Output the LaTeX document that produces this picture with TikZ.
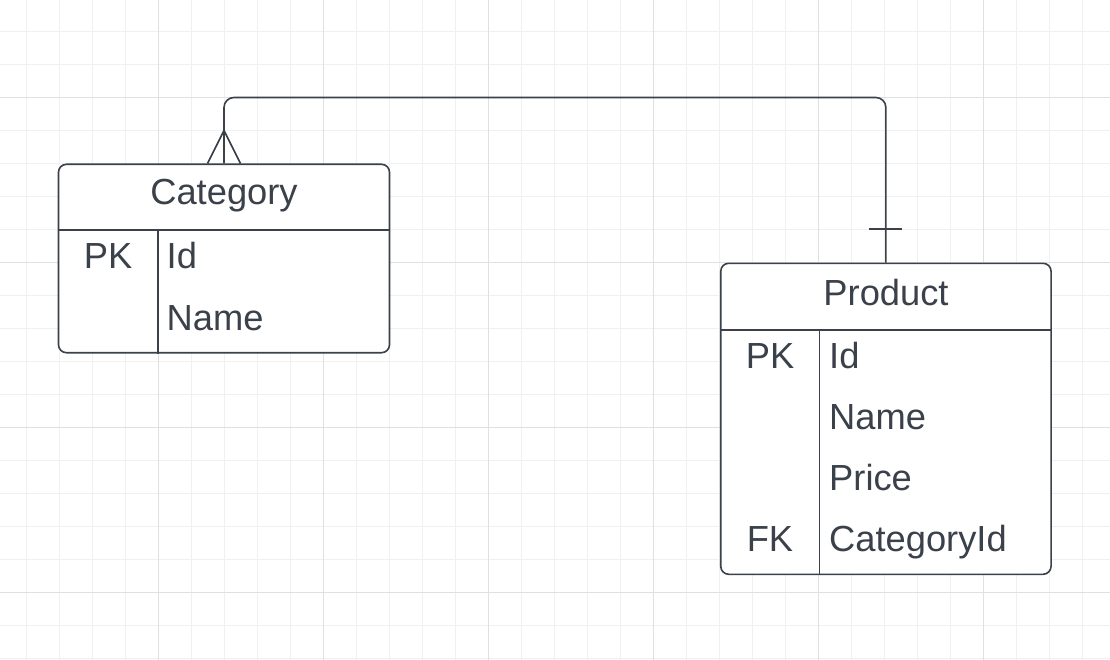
\documentclass[tikz,border=0pt]{standalone}
\usepackage{fontspec}
\setmainfont{Liberation Sans}
\definecolor{ink}{HTML}{3A414A}
\definecolor{gridminor}{HTML}{F0F0F0}
\definecolor{gridmajor}{HTML}{E0E0E0}
\begin{document}
\begin{tikzpicture}[x=1pt,y=-1pt,
  tablebox/.style={draw=ink,line width=1.6pt,rounded corners=8pt,fill=white,inner sep=0pt},
  rule/.style={draw=ink,line width=1.6pt},
  txt/.style={inner sep=0pt,text=ink,font=\fontsize{36.3}{40}\selectfont},
  title/.style={txt,anchor=base},
  key/.style={txt,anchor=base},
  field/.style={txt,anchor=base west},
  link/.style={draw=ink,line width=1.6pt}
]
\useasboundingbox (0,0) rectangle (1110,660);
\fill[white] (0,0) rectangle (1110,660);
% grid
\foreach \x in {26.3,59.3,...,1110} \draw[gridminor,line width=1pt] (\x,0) -- (\x,660);
\foreach \y in {31.5,64.5,...,660} \draw[gridminor,line width=1pt] (0,\y) -- (1110,\y);
\foreach \x in {158.3,323.3,...,1110} \draw[gridmajor,line width=1pt] (\x,0) -- (\x,660);
\foreach \y in {97.5,262.5,...,660} \draw[gridmajor,line width=1pt] (0,\y) -- (1110,\y);

% Category table
\node[tablebox,minimum width=331pt,minimum height=188.4pt] (cat) at (224,258.5) {};
\coordinate (catdivtop) at (157.7,230.3);
\draw[rule] (cat.west |- catdivtop) -- (cat.east |- catdivtop);
\draw[rule] (catdivtop) -- (catdivtop |- cat.south);
\node[title] (cattitle) at (224,205) {Category};
\node[key] (catpk) at (108,269) {PK};
\node[field] (catid) at (166.5,269) {Id};
\node[field] (catname) at (166.5,330) {Name};

% Product table
\node[tablebox,minimum width=330.3pt,minimum height=311pt] (prod) at (885.9,418.8) {};
\coordinate (proddivtop) at (819.3,330);
\draw[rule] (prod.west |- proddivtop) -- (prod.east |- proddivtop);
\draw[rule] (proddivtop) -- (proddivtop |- prod.south);
\node[title] (prodtitle) at (886,305) {Product};
\node[key] (prodpk) at (770,368) {PK};
\node[field] (prodid) at (829,368) {Id};
\node[field] (prodname) at (829,429) {Name};
\node[field] (prodprice) at (829,490) {Price};
\node[key] (prodfk) at (770,551.5) {FK};
\node[field] (prodcat) at (829,551.5) {CategoryId};

% relationship
\coordinate (top) at (0,97.5);
\draw[link,rounded corners=10pt] (cat.north) -- (cat.north |- top) -- (prod.north |- top) -- (prod.north);
% crow's foot at Category
\coordinate (apex) at ([yshift=33pt]cat.north);
\draw[link] ([xshift=-16.5pt]cat.north) -- (apex) -- ([xshift=16.5pt]cat.north);
% one bar at Product
\coordinate (bar) at ([yshift=33.5pt]prod.north);
\draw[link] ([xshift=-16.5pt]bar) -- ([xshift=16.5pt]bar);
\end{tikzpicture}
\end{document}
